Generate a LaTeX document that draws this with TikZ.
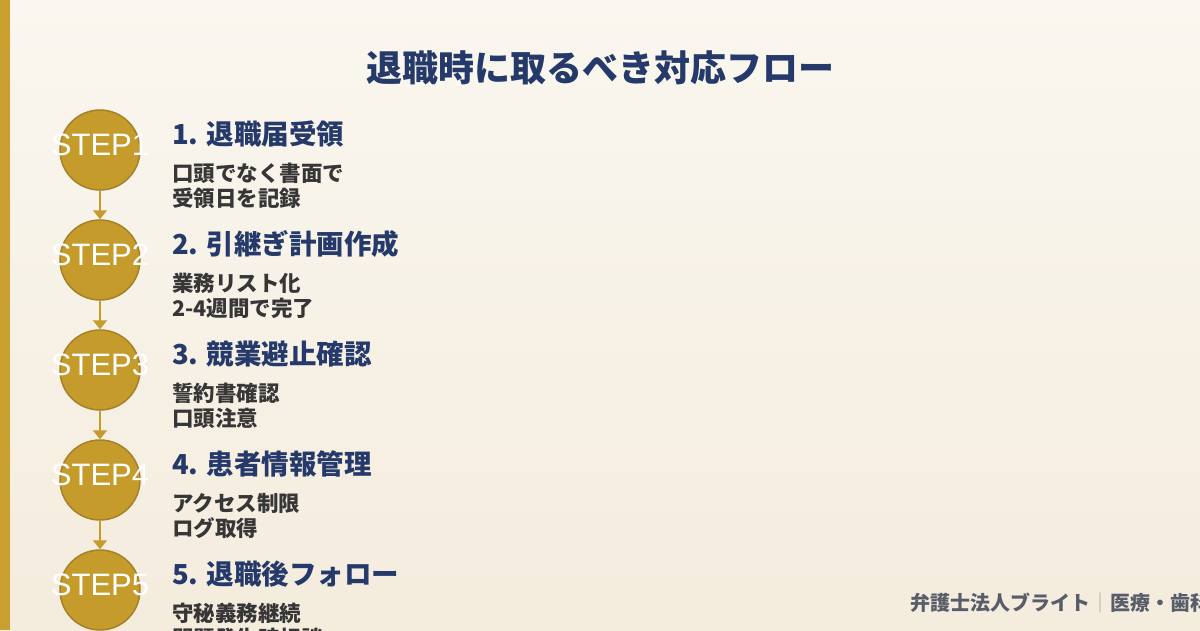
\documentclass[tikz,border=0pt]{standalone}
\usepackage{fontspec}
\setmainfont{Liberation Sans}
\newfontfamily\jp{Noto Sans CJK JP}
\usetikzlibrary{arrows.meta}
\definecolor{bgtop}{HTML}{FAF7F0}
\definecolor{bgbot}{HTML}{F4ECDD}
\definecolor{gold}{HTML}{C59B2C}
\definecolor{goldd}{HTML}{A5822A}
\definecolor{bar}{HTML}{C9A030}
\definecolor{navy}{HTML}{253A6B}
\definecolor{ink}{HTML}{363636}
\definecolor{foot}{HTML}{585D69}
\definecolor{sep}{HTML}{AAAAAA}
\tikzset{
  stepcircle/.style={circle, fill=gold, draw=goldd, line width=1.5pt, minimum size=80pt, inner sep=0pt},
  steplabel/.style={text=white, font=\fontsize{31}{30}\selectfont, inner sep=0pt},
  steptitle/.style={anchor=base west, inner sep=0pt, text=navy, font=\jp\bfseries\fontsize{27.5}{30}\selectfont},
  stepdesc/.style={anchor=base west, inner sep=0pt, text=ink, font=\jp\bfseries\fontsize{21.5}{24}\selectfont},
  flowarrow/.style={draw=gold, line width=2pt, -{Triangle[width=14pt,length=9pt]}}
}
\begin{document}
\begin{tikzpicture}[x=1pt,y=-1pt]
\useasboundingbox (0,0) rectangle (1200,630);
\clip (0,0) rectangle (1200,630);
\shade[top color=bgtop, bottom color=bgbot] (0,0) rectangle (1200,630);
\fill[bar] (0,0) rectangle (10,630);
\node[inner sep=0pt, text=navy, font=\jp\bfseries\fontsize{36}{40}\selectfont] (title) at (600,68) {退職時に取るべき対応フロー};
% steps
\foreach \i/\t/\a/\b in {1/1. 退職届受領/口頭でなく書面で/受領日を記録,
                          2/2. 引継ぎ計画作成/業務リスト化/2-4週間で完了,
                          3/3. 競業避止確認/誓約書確認/口頭注意,
                          4/4. 患者情報管理/アクセス制限/ログ取得,
                          5/5. 退職後フォロー/守秘義務継続/問題発生時相談}{
  \pgfmathsetmacro{\cy}{150+110*(\i-1)}
  \node[stepcircle] (c\i) at (100,\cy) {};
  \node[steplabel] (s\i) at (100,\cy-5) {STEP\i};
  \node[steptitle] (t\i) at (172,\cy-5.5) {\t};
  \node[stepdesc] (da\i) at (172,\cy+31.5) {\a};
  \node[stepdesc] (db\i) at (172,\cy+56) {\b};
}
\foreach \i/\j in {1/2,2/3,3/4,4/5}{
  \draw[flowarrow] (c\i.south) -- (c\j.north);
}
\node[anchor=base west, inner sep=0pt, text=foot, font=\jp\bfseries\fontsize{20}{24}\selectfont] (footer) at (910,610.5) {弁護士法人ブライト\textcolor{sep}{\jp\mdseries｜}医療・歯科};
\end{tikzpicture}
\end{document}
